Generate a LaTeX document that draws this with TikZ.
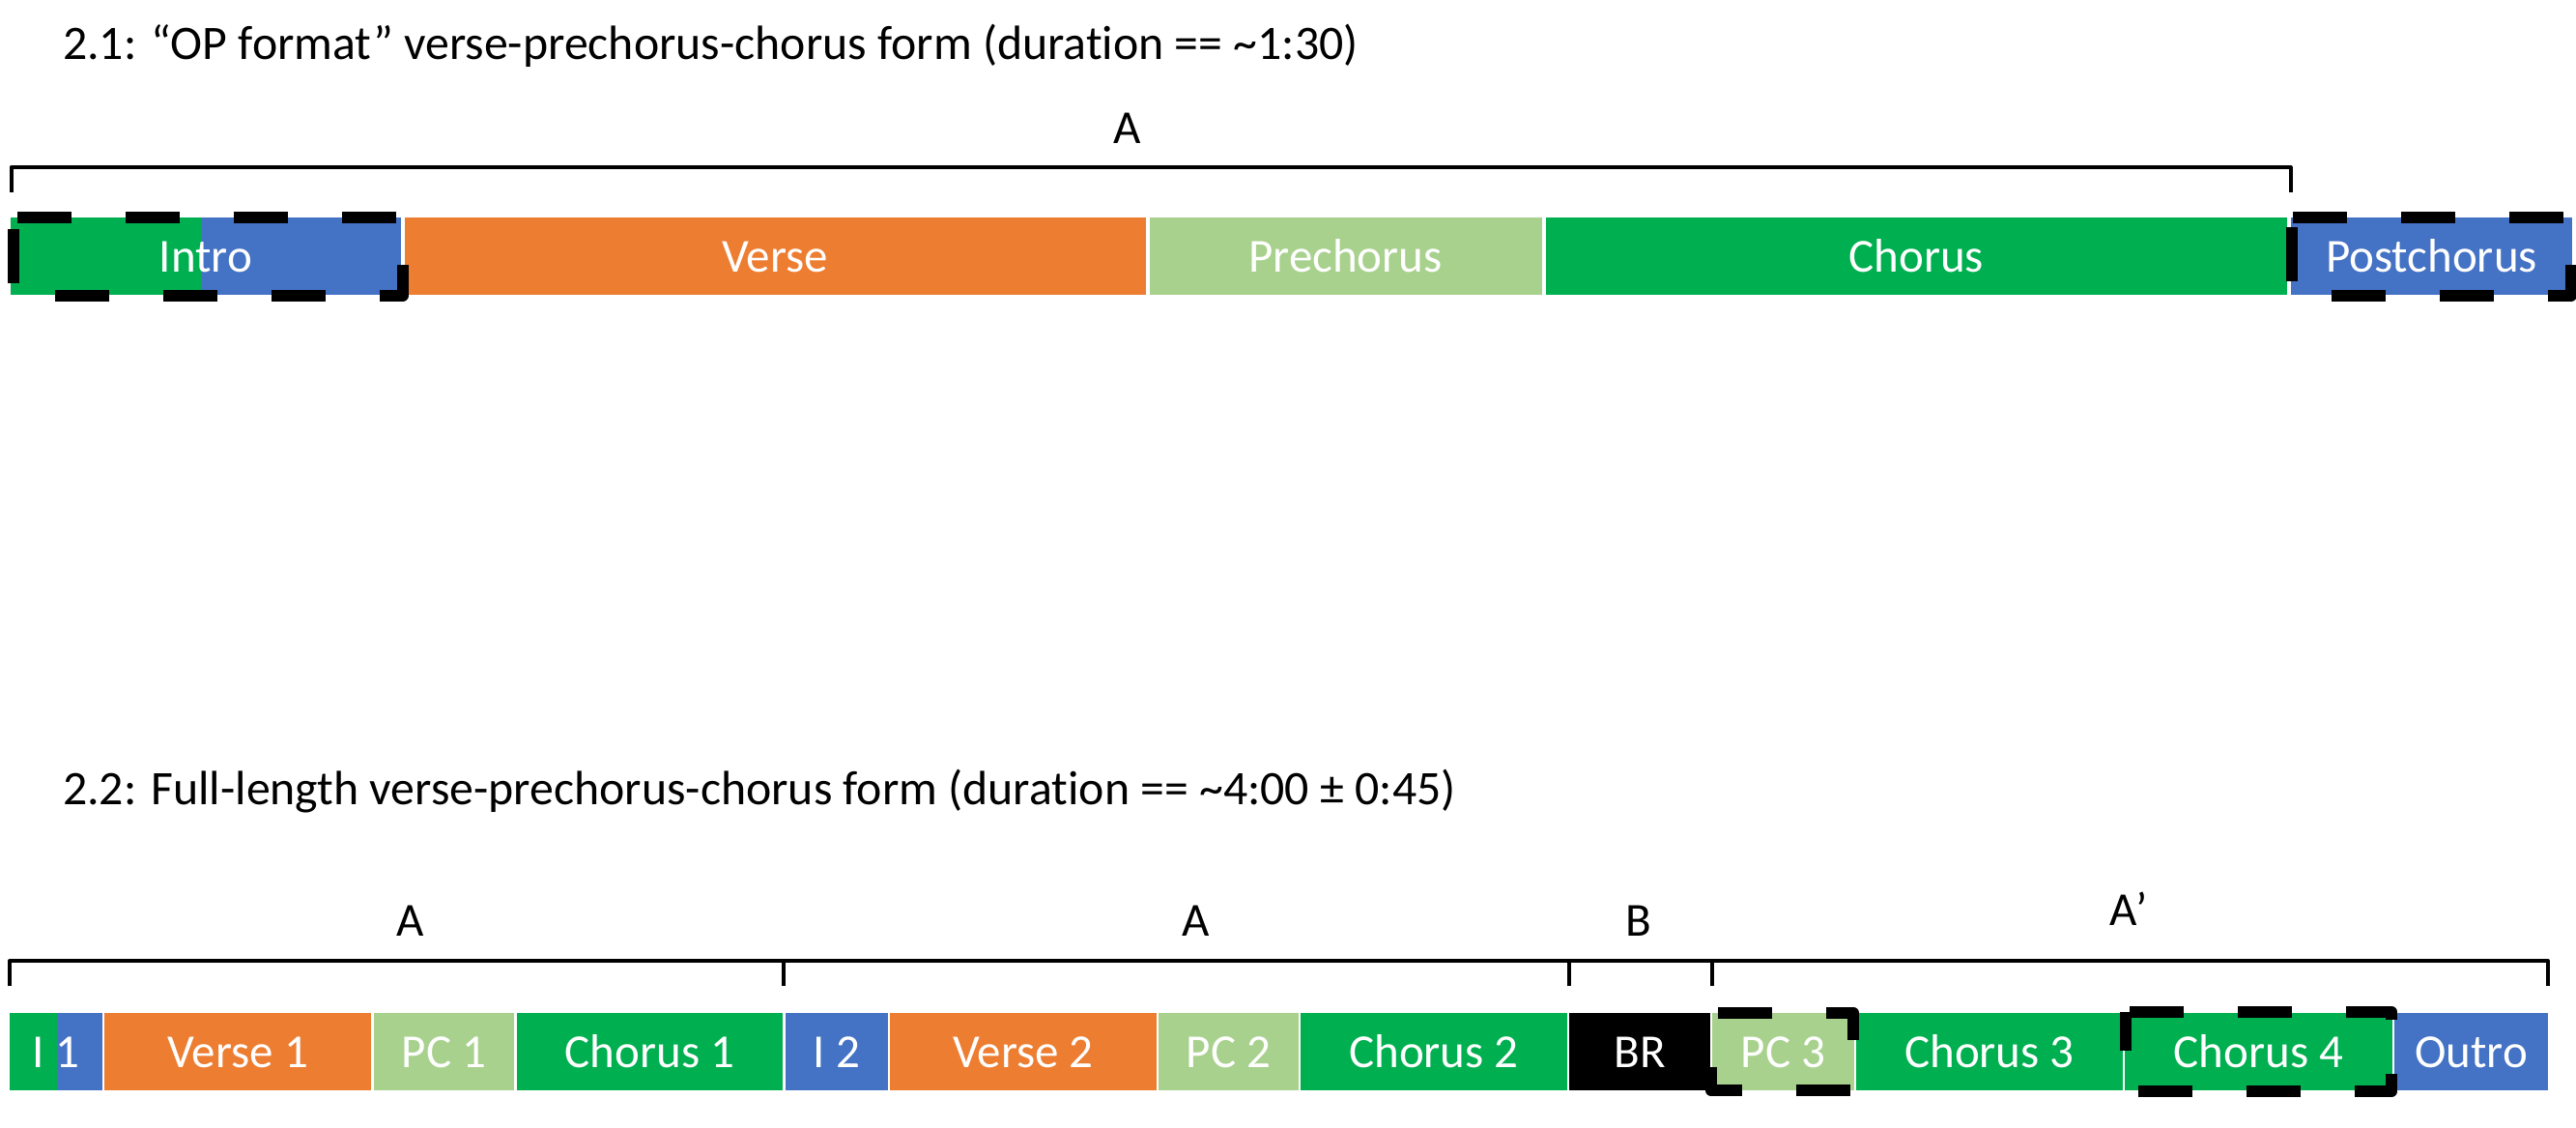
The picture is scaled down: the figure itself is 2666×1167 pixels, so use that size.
\documentclass[tikz,border=0pt]{standalone}
\usepackage{fontspec}
\setmainfont[Ligatures=NoCommon]{Carlito}
\usetikzlibrary{positioning}
\definecolor{secgreen}{HTML}{00B050}
\definecolor{secblue}{HTML}{4472C4}
\definecolor{secorange}{HTML}{ED7D31}
\definecolor{seclight}{HTML}{A9D18E}
\newcommand{\secfont}{\fontsize{49}{59}\selectfont}
\newcommand{\headfont}{\fontsize{49.8}{60}\selectfont}
\tikzset{seg/.style={draw=white, line width=4pt, minimum height=84pt, inner sep=0pt, outer sep=0pt, text=white, text height=32pt, text depth=0pt, font=\secfont},
  lowseg/.style={seg, line width=2.5pt, minimum height=82.5pt},
  lbl/.style={inner sep=0pt, anchor=base, font=\secfont},
  brk/.style={draw, line width=4pt, line join=round},
  dashbox/.style={draw, line width=12pt, dash pattern=on 56pt off 56pt, line join=round}}

\begin{document}
\begin{tikzpicture}[x=1pt, y=-1pt]
\useasboundingbox (0,0) rectangle (2666,1167);
% 2.1
\node[lbl, anchor=base west, font=\headfont] (title1) at (65,61) {2.1: “OP format” verse-prechorus-chorus form (duration == \textasciitilde1:30)};
\node[seg, fill=secblue, minimum width=408pt, anchor=north west, path picture={\fill[secgreen] (path picture bounding box.north west) rectangle ([xshift=200pt]path picture bounding box.south west);}] (intro) at (9,223) {Intro};
\node[seg, fill=secorange, minimum width=770.5pt, right=0pt of intro] (verse) {Verse};
\node[seg, fill=seclight, minimum width=410pt, right=0pt of verse] (pre) {Prechorus};
\node[seg, fill=secgreen, minimum width=771.5pt, right=0pt of pre] (chorus) {Chorus};
\node[seg, fill=secblue, minimum width=295pt, right=0pt of chorus] (post) {Postchorus};
\coordinate (ta) at (11.5,199);
\coordinate (tb) at (2370.5,199);
\draw[brk] (ta) -- ++(0,-26) -| (tb);
\node[lbl] (labA) at (1167,148) {A};
\draw[dashbox, dash phase=100pt] ([xshift=5pt,yshift=-1.5pt]intro.north west) rectangle ([yshift=1.5pt]intro.south east);
\draw[dashbox, dash phase=102pt] ([xshift=3pt,yshift=-2pt]post.north west) rectangle ([xshift=-3.5pt,yshift=1pt]post.south east);
% 2.2
\node[lbl, anchor=base west, font=\headfont] (title2) at (65,832) {2.2: Full-length verse-prechorus-chorus form (duration == \textasciitilde4:00 ± 0:45)};
\node[lowseg, fill=secblue, minimum width=98pt, anchor=north west, path picture={\fill[secgreen] (path picture bounding box.north west) rectangle ([xshift=51pt]path picture bounding box.south west);}] (i1) at (9,1046.75) {I 1};
\node[lowseg, fill=secorange, minimum width=278.5pt, right=0pt of i1] (v1) {Verse 1};
\node[lowseg, fill=seclight, minimum width=148pt, right=0pt of v1] (pc1) {PC 1};
\node[lowseg, fill=secgreen, minimum width=278pt, right=0pt of pc1] (c1) {Chorus 1};
\node[lowseg, fill=secblue, minimum width=108.5pt, right=0pt of c1] (i2) {I 2};
\node[lowseg, fill=secorange, minimum width=278pt, right=0pt of i2] (v2) {Verse 2};
\node[lowseg, fill=seclight, minimum width=147pt, right=0pt of v2] (pc2) {PC 2};
\node[lowseg, fill=secgreen, minimum width=278pt, right=0pt of pc2] (c2) {Chorus 2};
\node[lowseg, fill=black, minimum width=148pt, right=0pt of c2] (br) {BR};
\node[lowseg, fill=seclight, minimum width=149pt, right=0pt of br] (pc3) {PC 3};
\node[lowseg, fill=secgreen, minimum width=278pt, right=0pt of pc3] (c3) {Chorus 3};
\node[lowseg, fill=secgreen, minimum width=279pt, right=0pt of c3] (c4) {Chorus 4};
\node[lowseg, fill=secblue, minimum width=161pt, right=0pt of c4] (outro) {Outro};
\coordinate (b0) at (10,1020);
\coordinate (b1) at (811,1020);
\coordinate (b2) at (1624,1020);
\coordinate (b3) at (1772,1020);
\coordinate (b4) at (2637,1020);
\draw[brk] (b0) -- ++(0,-26) -| (b4);
\draw[brk] (b1) -- ++(0,-26);
\draw[brk] (b2) -- ++(0,-26);
\draw[brk] (b3) -- ++(0,-26);
\node[lbl] (labA1) at (425,968) {A};
\node[lbl] (labA2) at (1238,968) {A};
\node[lbl] (labB) at (1696,968) {B};
\node[lbl] (labA3) at (2203,957) {A’};
\draw[dashbox, dash phase=56pt] ([yshift=-1pt]pc3.north west) rectangle ([xshift=-2pt,yshift=1pt]pc3.south east);
\draw[dashbox, dash phase=16pt] ([xshift=1.5pt]c4.north west) rectangle ([xshift=-2pt]c4.south east);
\end{tikzpicture}
\end{document}
